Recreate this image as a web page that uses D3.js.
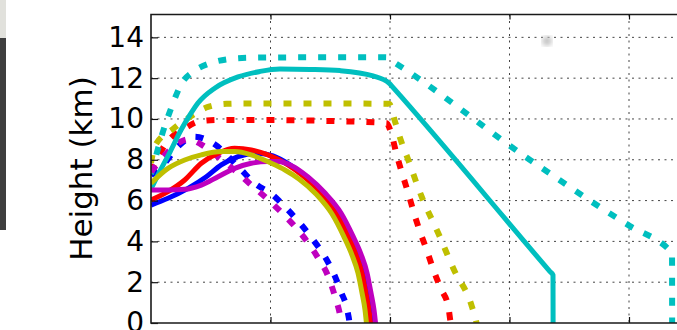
<!DOCTYPE html>
<html>
<head>
<meta charset="utf-8">
<script src="https://cdn.jsdelivr.net/npm/d3@7"></script>
<style>
body { margin: 0; background: #fff; }
</style>
</head>
<body>
<div id="chart"></div>
<script>
// axis values
var yTicks = [0, 2, 4, 6, 8, 10, 12, 14];
var xGridVals = [1, 2, 3, 4];
var yLabel = "Height (km)";

// solid runs  [x, height km]
var blueSolid = [[0,5.78],[0.142,6.11],[0.31,6.6],[0.463,7.17],[0.588,7.75],[0.728,8.15],[0.895,8.32],[1.021,8.19],[1.163,7.75],[1.289,7.21],[1.431,6.42],[1.565,5.39],[1.665,4.26],[1.732,3.38],[1.782,2.45],[1.816,1.47],[1.841,0.64],[1.854,0],[1.86,-0.3]];
var redSolid = [[0,6.03],[0.142,6.44],[0.282,7.01],[0.421,7.83],[0.561,8.32],[0.7,8.56],[0.839,8.48],[0.979,8.24],[1.146,7.75],[1.272,7.21],[1.414,6.42],[1.548,5.39],[1.649,4.26],[1.715,3.38],[1.766,2.45],[1.799,1.47],[1.824,0.64],[1.837,0],[1.843,-0.3]];
var cyanSolid = [[0,6.57],[0.075,7.45],[0.159,8.38],[0.251,9.46],[0.326,10.2],[0.393,10.78],[0.536,11.52],[0.728,12.06],[0.912,12.33],[1.079,12.45],[1.331,12.43],[1.582,12.37],[1.858,12.11],[1.992,11.76],[2.021,11.57],[3.339,2.52],[3.364,2.35],[3.365,-0.3]];
var magentaSolid = [[0,6.52],[0.142,6.52],[0.282,6.55],[0.421,6.76],[0.561,7.17],[0.7,7.58],[0.839,7.83],[0.979,7.91],[1.063,7.91],[1.18,7.7],[1.314,7.16],[1.456,6.37],[1.59,5.39],[1.69,4.26],[1.757,3.38],[1.808,2.45],[1.841,1.47],[1.866,0.64],[1.879,0],[1.885,-0.3]];
var yellowSolid = [[0,6.85],[0.142,7.58],[0.282,7.99],[0.421,8.24],[0.588,8.4],[0.7,8.4],[0.839,8.24],[1.007,7.83],[1.121,7.5],[1.238,7.06],[1.381,6.32],[1.515,5.34],[1.615,4.22],[1.682,3.33],[1.732,2.45],[1.766,1.47],[1.791,0.64],[1.803,0],[1.809,-0.3]];

// dotted runs
var blueDotted = [[0,7.25],[0.115,7.84],[0.212,8.56],[0.366,9.13],[0.519,8.81],[0.742,7.58],[0.868,6.85],[1.021,6.27],[1.138,5.59],[1.247,4.89],[1.351,4.12],[1.456,3.24],[1.531,2.4],[1.59,1.53],[1.644,0.59],[1.661,0],[1.666,-0.3]];
var redDotted = [[0,7.4],[0.117,8.73],[0.283,9.54],[0.42,9.9],[0.585,9.95],[0.92,9.95],[1.5,9.9],[1.97,9.8],[2.014,9.22],[2.056,8.24],[2.106,7.25],[2.153,6.36],[2.201,5.38],[2.251,4.48],[2.307,3.58],[2.362,2.63],[2.424,1.7],[2.488,0.8],[2.508,0],[2.52,-0.3]];
var cyanDotted = [[0,7.3],[0.017,7.65],[0.084,9.07],[0.173,10.6],[0.257,11.75],[0.354,12.32],[0.494,12.73],[0.644,12.93],[0.812,13.0],[1.247,13.02],[1.967,13.02],[2.017,12.84],[3.172,7.99],[4.008,4.75],[4.326,3.65],[4.36,3.45],[4.361,-0.3]];
var magentaDotted = [[0,7.4],[0.117,8.24],[0.243,8.87],[0.31,9.0],[0.45,8.64],[0.575,8.07],[0.714,7.42],[0.839,6.76],[0.965,6.13],[1.088,5.44],[1.205,4.72],[1.317,3.91],[1.4,3.17],[1.484,2.27],[1.54,1.29],[1.582,0.39],[1.594,0],[1.6,-0.3]];
var yellowDotted = [[0,7.84],[0.033,8.68],[0.184,9.51],[0.341,10.16],[0.477,10.59],[0.634,10.74],[0.801,10.76],[1.5,10.76],[1.992,10.74],[2.042,9.87],[2.09,8.97],[2.153,7.99],[2.265,6.19],[2.404,4.4],[2.536,2.6],[2.684,0.83],[2.724,0],[2.735,-0.3]];

var colors = { b: "#0000ff", r: "#ff0000", c: "#00bfbf", m: "#bf00bf", y: "#bfbf00" };

// drawing order: dotted first, then solid
var runs = [
  { data: blueDotted, col: "b", dotted: true },
  { data: redDotted, col: "r", dotted: true },
  { data: cyanDotted, col: "c", dotted: true },
  { data: magentaDotted, col: "m", dotted: true },
  { data: yellowDotted, col: "y", dotted: true },
  { data: blueSolid, col: "b", dotted: false },
  { data: redSolid, col: "r", dotted: false },
  { data: cyanSolid, col: "c", dotted: false },
  { data: magentaSolid, col: "m", dotted: false },
  { data: yellowSolid, col: "y", dotted: false }
];

var svgWidth = 677, svgHeight = 330;
var plotLeft = 151, plotRight = 748.5, plotTop = 14.5, plotBottom = 323;

var svg = d3.select("#chart")
  .append("svg")
  .attr("width", svgWidth)
  .attr("height", svgHeight)
  .style("display", "block");

var x = d3.scaleLinear().domain([0, 5]).range([plotLeft, plotRight]);
var y = d3.scaleLinear().domain([0, 15.12]).range([plotBottom, plotTop]);

// strip on the far left of the screenshot
svg.append("rect").attr("x", 0).attr("y", 0).attr("width", 6).attr("height", 38).attr("fill", "#e1e1dc");
svg.append("rect").attr("x", 0).attr("y", 38).attr("width", 6).attr("height", 192).attr("fill", "#3e3e3e");

var defs = svg.append("defs");
defs.append("clipPath").attr("id", "plotclip")
  .append("rect")
  .attr("x", plotLeft).attr("y", plotTop)
  .attr("width", plotRight - plotLeft).attr("height", plotBottom - plotTop);
defs.append("filter").attr("id", "blur")
  .append("feGaussianBlur").attr("stdDeviation", 2.5);

// grid
var grid = svg.append("g").attr("stroke", "#444").attr("stroke-width", 1).attr("stroke-dasharray", "2,4.5");
grid.selectAll("line.h")
  .data(yTicks.filter(function(d){ return d > 0; }))
  .enter().append("line")
  .attr("class", "h")
  .attr("x1", plotLeft).attr("x2", plotRight)
  .attr("y1", function(d){ return y(d); })
  .attr("y2", function(d){ return y(d); });
grid.selectAll("line.v")
  .data(xGridVals)
  .enter().append("line")
  .attr("class", "v")
  .attr("y1", plotTop).attr("y2", plotBottom)
  .attr("x1", function(d){ return x(d); })
  .attr("x2", function(d){ return x(d); });

// smudge near the top right
svg.append("circle").attr("cx", 547).attr("cy", 41).attr("r", 5)
  .attr("fill", "#c4c4c4").attr("filter", "url(#blur)");

var line = d3.line()
  .x(function(d){ return x(d[0]); })
  .y(function(d){ return y(d[1]); })
  .curve(d3.curveMonotoneX);

svg.append("g")
  .attr("clip-path", "url(#plotclip)")
  .selectAll("path")
  .data(runs)
  .enter().append("path")
  .attr("fill", "none")
  .attr("stroke", function(d){ return colors[d.col]; })
  .attr("stroke-width", function(d){ return d.dotted ? 6 : 5; })
  .attr("stroke-dasharray", function(d){ return d.dotted ? "8,12" : null; })
  .attr("stroke-linejoin", "round")
  .attr("d", function(d){ return line(d.data); });

// axes
var yAxis = svg.append("g")
  .attr("transform", "translate(" + plotLeft + ",0)")
  .call(d3.axisLeft(y).tickValues(yTicks).tickSize(-7).tickSizeOuter(0).tickPadding(7));
yAxis.select(".domain").remove();
yAxis.selectAll("text")
  .attr("font-family", "DejaVu Sans")
  .attr("font-size", 28)
  .attr("fill", "#000");
yAxis.selectAll("line").attr("stroke", "#111").attr("stroke-width", 1.2);

var topAxis = svg.append("g")
  .attr("transform", "translate(0," + plotTop + ")")
  .call(d3.axisTop(x).tickValues(xGridVals).tickSize(-5).tickSizeOuter(0).tickFormat(""));
topAxis.select(".domain").remove();
topAxis.selectAll("line").attr("stroke", "#111").attr("stroke-width", 1.2);

var bottomAxis = svg.append("g")
  .attr("transform", "translate(0," + plotBottom + ")")
  .call(d3.axisBottom(x).tickValues(xGridVals).tickSize(-6).tickSizeOuter(0).tickFormat(""));
bottomAxis.select(".domain").remove();
bottomAxis.selectAll("line").attr("stroke", "#111").attr("stroke-width", 1.2);

// frame
svg.append("path")
  .attr("fill", "none")
  .attr("stroke", "#1a1a1a")
  .attr("stroke-width", 1.6)
  .attr("d", "M" + plotRight + "," + plotTop + "H" + plotLeft + "V" + plotBottom + "H" + plotRight);

svg.append("text")
  .attr("transform", "translate(92,168.5) rotate(-90)")
  .attr("text-anchor", "middle")
  .attr("font-family", "DejaVu Sans")
  .attr("font-size", 31)
  .attr("fill", "#000")
  .text(yLabel);
</script>
</body>
</html>
